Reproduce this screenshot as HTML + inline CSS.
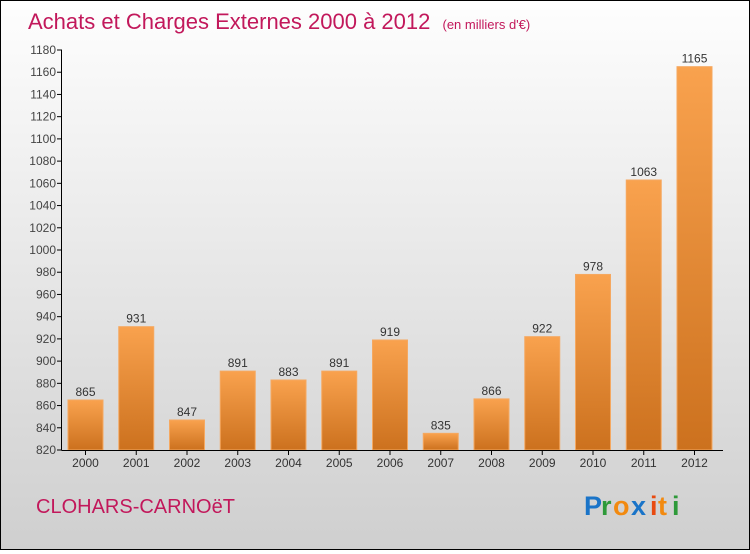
<!DOCTYPE html>
<html><head><meta charset="utf-8"><style>
body{margin:0;width:750px;height:550px;overflow:hidden;font-family:"Liberation Sans",sans-serif}
#wrap{position:absolute;left:0;top:0;width:748px;height:548px;border:1px solid #000;background:linear-gradient(#fefefe,#cfcfcf)}
</style></head><body>
<div id="wrap">
<svg id="svg" width="748" height="548" xmlns="http://www.w3.org/2000/svg">
<defs><linearGradient id="bg" x1="0" y1="0" x2="0" y2="1"><stop offset="0" stop-color="#f9a24e"/><stop offset="1" stop-color="#cc711e"/></linearGradient></defs>
<text x="27" y="28" font-size="22" fill="#c2185b">Achats et Charges Externes 2000 à 2012 <tspan font-size="13" dx="6">(en milliers d'€)</tspan></text>
<text x="35" y="512" font-size="20" fill="#c2185b">CLOHARS-CARNOëT</text>
<g font-size="27" font-weight="bold">
<text x="583" y="514" fill="#1a74c8">P</text><text x="600" y="514" fill="#2e9a3a">r</text><text x="612" y="514" fill="#f28a10">o</text><text x="630" y="514" fill="#1a74c8">x</text><text x="649" y="514" fill="#e84a10">i</text><text x="657" y="514" fill="#f28a10">t</text><text x="671" y="514" fill="#2e9a3a">i</text></g>
<g id="g"></g>
</svg></div>
<script>
const years=["2000","2001","2002","2003","2004","2005","2006","2007","2008","2009","2010","2011","2012"];
const values=[865,931,847,891,883,891,919,835,866,922,978,1063,1165];
const yMin=820,yMax=1180,yStep=20;
const y=v=>449-(v-yMin)*(400/(yMax-yMin));
const x=i=>84.5+i*50.75;
const g=document.getElementById('g');const NS="http://www.w3.org/2000/svg";
function mk(t,a){const e=document.createElementNS(NS,t);for(const k in a)e.setAttribute(k,a[k]);g.appendChild(e);return e;}
for(let v=yMin;v<=yMax;v+=yStep){
 const t=mk('line',{x1:56,x2:61,y1:y(v),y2:y(v),stroke:'#000'});
 
 
 const l=mk('text',{x:55,y:y(v)+4,'font-size':12,'text-anchor':'end',fill:'#444'});l.textContent=v;
 
 
}
years.forEach((yr,i)=>{
 const b=mk('rect',{x:x(i)-17.5,y:y(values[i]),width:35,height:y(yMin)-y(values[i]),fill:'url(#bg)',stroke:'#f5a860','stroke-width':1});
 
 
 const v=mk('text',{x:x(i),y:y(values[i])-4,'font-size':12,'text-anchor':'middle',fill:'#333'});v.textContent=values[i];
 
 
 const t=mk('line',{x1:x(i),x2:x(i),y1:449,y2:454,stroke:'#000'});
 
 
 const l=mk('text',{x:x(i),y:466,'font-size':12,'text-anchor':'middle',fill:'#333'});l.textContent=yr;
 
 
});
const ya=mk('line',{x1:60.5,x2:60.5,y1:y(yMax),y2:449.5,stroke:'#000'});


const xa=mk('line',{x1:60.5,x2:722,y1:449.5,y2:449.5,stroke:'#000'});


</script>
</body></html>
